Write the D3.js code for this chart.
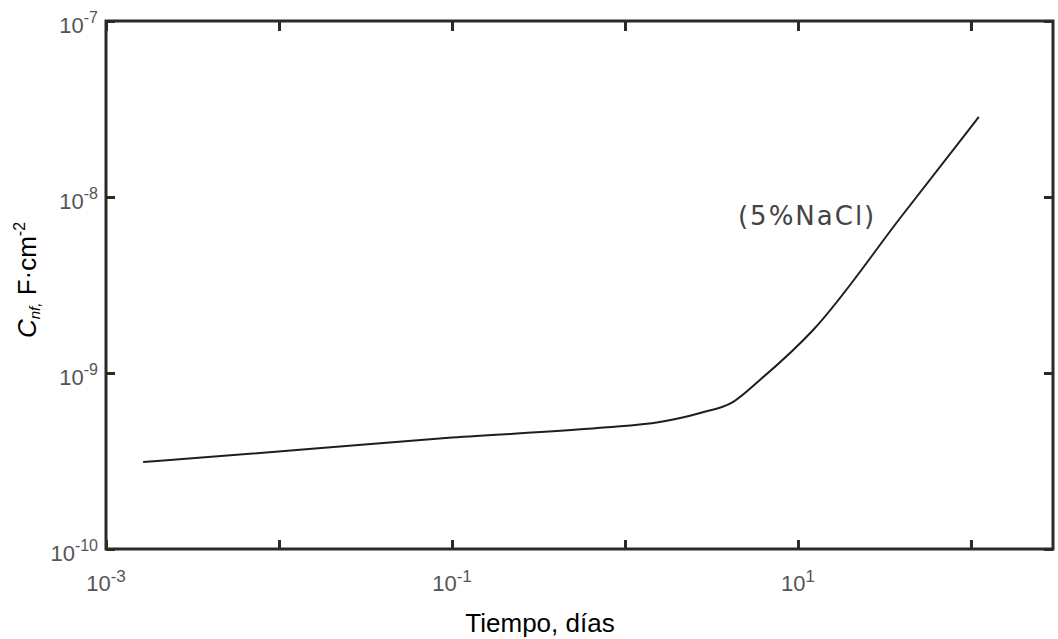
<!DOCTYPE html>
<meta charset="utf-8">
<style>
body { margin: 0; background: #fff; }
.frame { fill: none; stroke: #2a2a2a; stroke-width: 3px; }
.tick line { stroke: #2a2a2a; stroke-width: 3px; }
.lbl { font: 22px "Liberation Sans", sans-serif; fill: #555; }
.title { font: 26px "Liberation Sans", Arial, sans-serif; fill: #000; }
.curve { fill: none; stroke: #1e1e1e; stroke-width: 2px; stroke-linejoin: round; }
.note { font: 26px "DejaVu Sans", sans-serif; fill: #444; letter-spacing: 2px; }
</style>
<body>
<div id="main"></div>
<script src="https://d3js.org/d3.v7.min.js"></script>
<script>
// tiempo (dias) vs capacidad (F/cm2)
var tiempo = [0.00164, 0.0132, 0.1, 0.72, 1.59, 2.72, 4.2, 6.0, 12.2, 40, 111];
var capacidad = [3.12e-10, 3.66e-10, 4.3e-10, 4.88e-10, 5.27e-10, 5.93e-10, 6.84e-10, 9.1e-10, 1.75e-9, 7.85e-9, 2.85e-8];

var xTicks = [1e-3, 1e-2, 1e-1, 1, 10, 100];
var xLabels = [[1e-3, "-3"], [1e-1, "-1"], [10, "1"]];
var yTicks = [1e-10, 1e-9, 1e-8, 1e-7];
var yLabels = [[1e-7, "-7"], [1e-8, "-8"], [1e-9, "-9"], [1e-10, "-10"]];

var svg = d3.select("#main").append("svg")
	.attr("width", 1058)
	.attr("height", 639);

var margin = {left: 106, top: 21, right: 5, bottom: 90},
	width = 1058 - margin.left - margin.right,
	height = 639 - margin.top - margin.bottom;

var x = d3.scaleLog().domain([1e-3, 298]).range([0, width]);
var y = d3.scaleLog().domain([1e-10, 1e-7]).range([height, 0]);

var g = svg.append("g").attr("transform", "translate(" + margin.left + "," + margin.top + ")");

// inward ticks on all four sides
g.append("g").attr("class", "tick").attr("transform", "translate(0," + height + ")")
	.call(d3.axisTop(x).tickValues(xTicks).tickSize(9).tickFormat(""))
	.select(".domain").remove();
g.append("g").attr("class", "tick")
	.call(d3.axisBottom(x).tickValues(xTicks).tickSize(10).tickFormat(""))
	.select(".domain").remove();
g.append("g").attr("class", "tick")
	.call(d3.axisRight(y).tickValues(yTicks).tickSize(9).tickFormat(""))
	.select(".domain").remove();
g.append("g").attr("class", "tick").attr("transform", "translate(" + width + ",0)")
	.call(d3.axisLeft(y).tickValues(yTicks).tickSize(9).tickFormat(""))
	.select(".domain").remove();

g.append("rect").attr("class", "frame")
	.attr("width", width).attr("height", height);

// tick labels
var xl = g.selectAll(".xl").data(xLabels).enter().append("text")
	.attr("class", "lbl")
	.attr("x", function(d) { return x(d[0]); })
	.attr("y", height + 42)
	.attr("text-anchor", "middle");
xl.append("tspan").text("10");
xl.append("tspan").attr("dy", -9).attr("font-size", 17).text(function(d) { return d[1]; });

var yl = g.selectAll(".yl").data(yLabels).enter().append("text")
	.attr("class", "lbl")
	.attr("x", -8)
	.attr("y", function(d) { return y(d[0]) + 12; })
	.attr("text-anchor", "end");
yl.append("tspan").text("10");
yl.append("tspan").attr("dy", -10).attr("font-size", 16).text(function(d) { return d[1]; });

// curve
var line = d3.line()
	.x(function(d, i) { return x(tiempo[i]); })
	.y(function(d) { return y(d); })
	.curve(d3.curveMonotoneX);
g.append("path").attr("class", "curve").attr("d", line(capacidad));

g.append("text").attr("class", "note")
	.attr("x", x(4.5)).attr("y", y(6.9e-9))
	.text("(5%NaCl)");

// axis titles
svg.append("text").attr("class", "title")
	.attr("x", 540).attr("y", 632).attr("text-anchor", "middle")
	.text("Tiempo, días");

var yt = svg.append("text").attr("class", "title")
	.attr("transform", "translate(36,280) rotate(-90)")
	.attr("text-anchor", "middle");
yt.append("tspan").attr("font-style", "italic").text("C");
yt.append("tspan").attr("font-size", 15).attr("font-style", "italic").attr("dy", 4).text("nf,");
yt.append("tspan").attr("dy", -4).text(" F·cm");
yt.append("tspan").attr("font-size", 16).attr("dy", -11).text("-2");
</script>
</body>
